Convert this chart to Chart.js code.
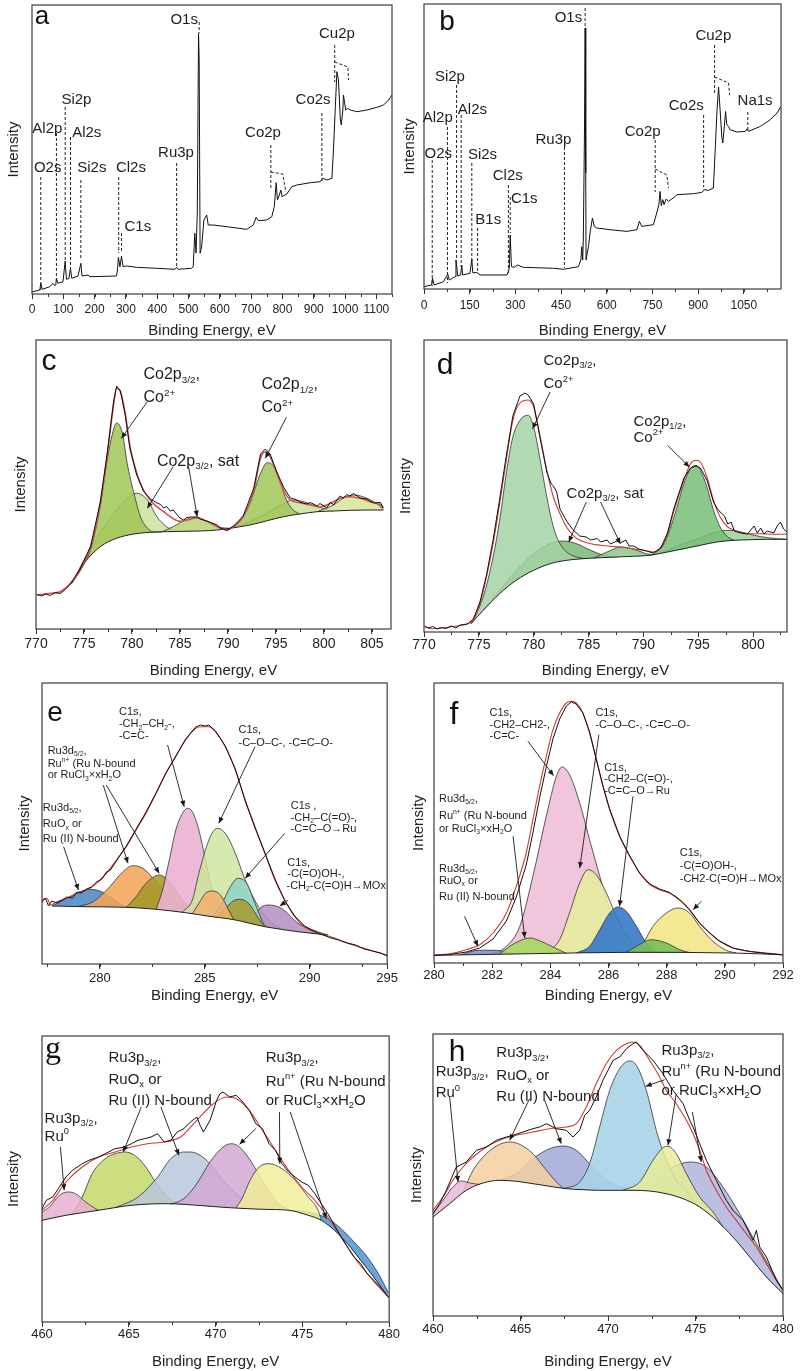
<!DOCTYPE html>
<html><head><meta charset="utf-8">
<script src="https://cdn.jsdelivr.net/npm/chart.js@4.4.1/dist/chart.umd.min.js"></script>
<style>
html,body{margin:0;padding:0;background:#fff;}
body{width:800px;height:1371px;position:relative;overflow:hidden;}
canvas{position:absolute;}
</style></head><body>
<canvas id="pa"></canvas><canvas id="pb"></canvas><canvas id="pc"></canvas><canvas id="pd"></canvas>
<canvas id="pe"></canvas><canvas id="pf"></canvas><canvas id="pg"></canvas><canvas id="ph"></canvas>
<script>
const FONT = "'Liberation Sans', Arial, Helvetica, sans-serif";

// ================= panel a (survey) =================
const aTicks = [0,100,200,300,400,500,600,700,800,900,1000,1100];
const aSurvey = [[0,2],[3,2.3],[25,4],[28,10.7],[33,4.7],[57,7.3],[67,10.7],[72,8.5],[76,9],[78,15.7],[83,10.7],[99,12.3],[106,33],[110,14.7],[118,15.7],[123,25.7],[127,15.7],[147,18],[156,30.7],[160,18],[179,19],[185,17.3],[270,18],[273,24],[276,36.7],[281,27.3],[286,38],[291,27.3],[302,28],[334,26.7],[398,25.7],[457,24.7],[462,26.7],[467,24.7],[510,25.7],[515,27.3],[520,60.7],[524,41],[528,81],[532,260.7],[534,234],[537,40.7],[542,47.3],[549,74],[558,79],[563,69],[579,69],[622,67.3],[686,64.7],[707,69],[716,76.7],[723,73.3],[750,74],[766,77.3],[774,87.3],[780,111.3],[784,94],[790,99],[795,104],[799,97.3],[814,100],[830,107.3],[846,109],[889,111.3],[921,112.3],[928,115.7],[942,114],[958,115.7],[963,144],[969,187.3],[974,222.3],[979,214],[985,174],[988,169],[993,184],[995,199],[1002,184],[1008,185.7],[1017,184],[1038,182.3],[1070,184],[1102,186.7],[1123,189],[1139,194],[1150,199]];
const aNames = ['O2s','Al2p','Si2p','Al2s','Si2s','Cl2s','C1s','Ru3p','O1s','Co2p','Co2s','Cu2p'];
const aNamePos = [[50,127],[49,166],[142,195],[175,162],[191,127],[316,127],[338,68],[460,142],[486,275],[738,162],[898,195],[974,261]];
const aDrops = [[[28,117],[28,4]],[[78,161],[78,12]],[[106,187],[106,34]],[[123,157],[123,26]],[[156,114],[156,36]],[[277,117],[277,41]],[[286,61],[286,41]],[[462,131],[462,27]],[[534,272],[534,261]],[[763,149],[763,104]],[[926,181],[926,112]],[[967,249],[967,212]],[[763,122],[801,120],[811,102]],[[967,232],[1009,227],[1011,214]]];

// ================= panel b (survey) =================
const bTicks = [0,150,300,450,600,750,900,1050];
const bSurvey = [[0,2],[3,2.6],[25,4],[28,10.7],[33,4],[64,7.3],[78,15],[83,9],[102,12.3],[105,29],[111,13],[120,14],[124,24],[127,14],[151,15.7],[157,29.7],[160,16.3],[175,16.3],[184,14],[272,14],[277,17.3],[280,21],[283,54],[287,22.3],[296,21.7],[307,24],[326,21.7],[425,20.7],[458,19.7],[507,22.3],[515,29],[518,42.3],[521,29],[523,49],[527,162],[529,261],[531,116],[532,29],[536,36],[540,42.3],[545,56],[553,71],[559,62.6],[567,61],[611,59.3],[666,57.6],[699,59.3],[707,67.6],[715,62.6],[753,64.3],[764,76],[771,84.3],[775,97.6],[779,83.3],[784,89.3],[788,84.3],[795,90],[803,87.6],[825,92.6],[830,94.3],[885,95.3],[912,96.6],[920,99.3],[934,98.6],[950,101],[956,139.3],[962,179.3],[967,202],[972,179.3],[978,151],[981,146],[986,162.6],[990,177.6],[994,164.3],[1000,162.6],[1005,159.3],[1027,157],[1055,157.6],[1060,160],[1065,157.6],[1104,162.6],[1137,169.3],[1159,176],[1172,182.6]];
const bNames = ['O2s','Al2p','Si2p','Al2s','Si2s','B1s','Cl2s','C1s','Ru3p','O1s','Co2p','Co2s','Cu2p','Na1s'];
const bNamePos = [[47,136],[45,172],[85,213],[159,180],[192,135],[211,70],[275,114],[329,91],[425,150],[474,272],[718,158],[861,184],[950,254],[1087,189]];
const bDrops = [[[27,129],[27,3]],[[77,162],[77,6]],[[107,204],[107,29]],[[122,174],[122,22]],[[157,126],[157,26]],[[176,61],[176,16]],[[277,104],[277,16]],[[283,92],[283,56]],[[461,142],[461,21]],[[529,281],[529,261]],[[759,149],[759,97]],[[918,174],[918,102]],[[954,244],[954,194]],[[1063,177],[1063,157]],[[759,120],[797,114],[803,101]],[[954,212],[1000,206],[1003,194]]];

// ================= panel c (Co2p) =================
const cTicks = [770,775,780,785,790,795,800,805];
const cRaw = [[770.1,34.5],[770.6,33],[771.0,35],[771.5,33.5],[772.0,36.5],[772.5,35.5],[773.0,39],[773.6,45],[774.6,60],[775.7,83],[776.7,127],[777.4,174],[778.1,228],[778.4,243],[778.8,238],[779.3,214],[779.8,180],[780.5,154],[781.2,138],[781.9,130],[782.3,128],[782.6,126],[783.0,124.5],[783.3,121],[783.6,122.5],[784.0,118],[784.3,119],[785.0,111],[785.4,109],[785.7,111.5],[786.1,112],[786.8,112],[787.1,110],[787.8,108],[788.2,106.5],[788.9,104],[789.2,101],[789.9,98.5],[790.6,103],[791.6,113],[792.7,141],[793.4,175],[793.9,180],[794.4,175],[795.1,157],[795.8,142],[796.5,131],[797.1,129.5],[797.5,127],[798.2,125],[798.6,126.5],[799.3,123],[799.6,125.5],[800.3,121],[800.7,127],[801.0,124],[801.7,133],[802.0,131],[802.4,134.5],[802.7,133],[803.1,135.5],[803.8,131],[804.5,130],[804.8,128],[805.2,126],[805.9,126.5],[806.2,121]];
const cEnvelope = [[770.1,34],[771.5,35.7],[772.5,37.3],[773.6,45.7],[774.6,59],[775.7,82.3],[776.7,125.7],[777.4,172.3],[778.1,225.7],[778.4,240.7],[778.8,237.3],[779.3,215.7],[779.8,182.3],[780.5,155.7],[781.2,139],[781.9,129],[782.6,122.3],[783.3,117.3],[784.0,112.3],[785.0,107.7],[786.1,109.7],[786.8,111.3],[787.8,107.7],[788.9,102.3],[789.9,99],[790.6,102.3],[791.6,112.3],[792.7,139],[793.4,170.7],[793.9,177.3],[794.4,172.3],[795.1,155.7],[795.8,139],[796.5,129],[797.5,126.3],[798.6,124],[799.6,122.3],[800.7,125.7],[801.7,130.7],[802.7,132.3],[803.8,130.7],[804.8,127.3],[805.9,124],[806.2,120.7]];
const cBackground = [[773.7,45.7],[775.0,65.7],[776.7,82.3],[778.4,90.7],[780.2,95],[781.9,96.7],[783.6,97.3],[785.4,97.7],[787.1,98],[788.9,99],[790.2,100.7],[792.3,104],[794.1,108.3],[795.8,112.3],[797.5,115],[799.3,117.3],[801.0,118],[802.7,118.7],[804.5,119],[806.2,119]];
const cMain32 = [[773.7,45.7],[774.6,58],[775.7,80],[776.7,123],[777.4,168],[778.1,200],[778.4,206],[779.0,196],[779.5,166],[780.2,136],[780.9,112],[781.6,101],[782.3,97],[783.0,97]];
const cShoulder32 = [[773.75,45.7],[775.0,69],[776.7,95.7],[778.4,119],[779.5,130.7],[780.5,135.7],[781.6,129],[782.6,112.3],[783.6,102.3],[784.3,99]];
const cSat32 = [[783.0,96.7],[784.3,102.3],[785.7,109.7],[786.8,111.3],[787.8,107.7],[789.2,101.7],[790.2,100.7]];
const cMain12 = [[790.2,100.5],[791.3,109],[792.3,125.7],[793.4,155.7],[794.1,166.3],[794.8,162.3],[795.5,145.7],[796.1,129],[796.8,119],[797.5,115]];
const cShoulder12 = [[790.6,101.5],[792.3,107.3],[794.1,115.7],[795.8,125.7],[796.8,129],[797.9,127.3],[799.3,122.3],[801.0,118]];
const cSat12 = [[799.3,117.3],[801.0,124],[802.0,130.7],[803.1,134],[804.5,130.7],[805.9,122.3],[806.2,119]];
const cTexts = ['Co2p_{3/2},','Co^{2+}','Co2p_{3/2}, sat','Co2p_{1/2},','Co^{2+}'];
const cTextPos = [[781.2,255.7],[781.2,232.3],[782.6,169],[793.5,245.7],[793.5,222.3]];
const cArrows = [[[781.6,227.3],[778.9,190.7]],[[784.3,162.3],[781.6,120.7]],[[785.9,162.3],[786.8,112.3]],[[796.1,211.7],[793.9,170.7]]];

// ================= panel d (Co2p) =================
const dTicks = [770,775,780,785,790,795,800];
const dRaw = [[770.06,6],[770.4,4],[770.8,5.5],[771.2,3],[771.6,4.5],[772.0,3.5],[772.5,6],[772.9,4],[773.3,7],[773.9,7.5],[774.5,13],[775.1,30],[775.7,57],[776.3,92],[776.9,133],[777.5,176],[778.1,216],[778.75,236],[779.2,239],[779.5,237],[780.0,228],[780.6,193],[781.2,160],[781.6,148],[781.8,146],[782.1,140],[782.4,123],[783.0,111],[783.6,102],[784.2,96],[784.8,95],[785.2,92],[785.8,93.5],[786.1,90],[786.7,92],[787.0,88],[787.6,91],[787.9,89],[788.4,92],[788.7,86],[789.1,86],[789.6,83],[790.3,81],[790.9,79],[791.6,84],[792.2,99],[792.8,124],[793.7,154],[794.3,164],[794.8,166],[795.2,164],[795.8,152],[796.4,130],[796.7,124],[797.0,120],[797.4,116],[797.7,108],[798.0,110],[798.3,101],[798.9,99],[799.5,98],[800.1,106],[800.4,99],[800.7,104],[801.0,98],[801.3,101],[801.9,99],[802.2,106],[802.5,110],[802.8,103],[803.1,100]];
const dEnvelope = [[770.06,5],[770.8,3.3],[772.3,5],[773.9,8.3],[774.5,11.7],[775.1,28.3],[775.7,55],[776.3,88.3],[776.9,128.3],[777.5,171.7],[778.1,211.7],[778.75,229],[779.5,232],[780.0,225],[780.6,195],[781.2,161.7],[781.8,135],[782.4,118.3],[783.0,105],[783.6,96.7],[784.2,91.7],[785.2,88.3],[786.1,86.7],[787.0,85.7],[787.9,85],[789.1,83.3],[790.3,81],[790.9,80],[791.6,85],[792.2,98.3],[792.8,121.7],[793.7,151.7],[794.3,168.3],[794.8,171.7],[795.2,170],[795.8,155],[796.4,131.7],[797.0,115],[797.7,105],[798.3,101.7],[799.5,98.3],[800.7,98.3],[801.9,97.7],[803.1,97.7]];
const dBackground = [[774.3,8.3],[775.4,21.7],[776.9,38.3],[778.4,51.7],[780.0,61.7],[781.5,68.3],[783.0,71.7],[784.5,73.3],[786.1,74.3],[787.6,75],[789.1,75.7],[790.6,76.7],[792.2,80],[793.7,83.3],[795.2,86.7],[796.7,90],[798.3,91.7],[799.8,92.3],[801.3,92.7],[803.1,92.7]];
const dMain32 = [[774.3,8.3],[775.4,35],[776.3,75],[776.9,111.7],[777.5,158.3],[778.1,195],[778.75,211.7],[779.5,216.7],[780.0,205],[780.6,171.7],[781.2,135],[781.8,105],[782.4,88.3],[783.0,80],[783.9,75],[784.8,73.3]];
const dShoulder32 = [[775.4,21.7],[776.9,41.7],[778.4,61.7],[780.0,78.3],[781.5,88.3],[782.7,91],[783.9,88.3],[785.2,81.7],[786.4,76.7],[787.6,75]];
const dSat32 = [[785.5,74],[786.7,80],[788.0,85],[789.4,81.7],[790.6,77.7],[791.0,77.7]];
const dMain12 = [[790.9,77.5],[791.9,88.3],[792.8,115],[793.7,148.3],[794.3,163.3],[794.8,166.7],[795.2,161.7],[795.8,145],[796.4,121.7],[797.0,105],[797.7,95],[798.3,91.7]];
const dShoulder12 = [[791.6,79],[793.7,88.3],[795.2,94.3],[796.7,100],[797.7,101.7],[798.9,100],[800.1,96.7],[801.3,94.3],[803.1,92.7]];
const dTexts = ['Co2p_{3/2},','Co^{2+}','Co2p_{1/2},','Co^{2+}','Co2p_{3/2}, sat'];
const dTextPos = [[780.9,272.3],[780.9,249],[789.1,211.7],[789.1,195.7],[783.0,139.3]];
const dArrows = [[[781.5,240],[779.9,203.3]],[[784.8,130],[783.2,90]],[[786.1,130],[787.9,88.3]],[[792.2,186.7],[794.2,165]]];

// ================= panel e (C1s / Ru3d) =================
const eTicks = [280,285,290,293.7];
const eTickLabels = ['280','285','290','295'];
const eRaw = [[277.24,62],[277.4,66],[277.55,58],[277.7,63],[277.95,61],[278.2,64],[278.43,67],[278.7,66],[278.9,72],[279.1,71],[279.37,75],[279.6,77],[279.84,82],[280.1,85],[280.31,92],[280.5,94],[280.79,103],[281.0,110],[281.26,118],[281.73,135],[282.2,152],[282.68,171],[283.15,191],[283.62,208],[284.09,225],[284.57,237],[284.8,239],[285.0,238],[285.2,239],[285.35,236],[285.51,233],[285.98,218],[286.46,195],[286.93,163],[287.4,136],[287.87,111],[288.35,85],[288.82,63],[289.29,48],[289.76,38],[290.39,31],[291.02,26],[291.4,24],[291.81,21],[292.2,19],[292.6,15],[293.0,13],[293.39,11],[293.7,8]];
const eEnvelope = [[277.24,64],[277.48,65.7],[277.64,59],[277.95,62.3],[278.43,65.7],[278.9,70.7],[279.37,74],[279.84,80.7],[280.31,90.7],[280.79,104],[281.26,117.3],[281.73,134],[282.2,150.7],[282.68,170.7],[283.15,190.7],[283.62,207.3],[284.09,224],[284.57,235.7],[284.88,237.3],[285.2,237.3],[285.51,232.3],[285.98,217.3],[286.46,194],[286.93,164],[287.4,137.3],[287.87,110.7],[288.35,84],[288.82,64],[289.29,47.3],[289.76,37.3],[290.39,30.7],[291.02,27.3],[291.81,20.7],[292.6,15.7],[293.39,10.7],[293.7,9]];
const eBackground = [[277.72,58],[279.21,57.3],[281.26,56.7],[282.68,54.7],[284.09,51.3],[285.35,47.3],[286.3,44.7],[287.87,37.3],[289.45,32.3],[290.87,29]];
const eRuOx = [[277.72,58],[278.43,65.7],[279.06,72.3],[279.53,74.7],[280.0,73],[280.47,67.3],[280.94,60.7],[281.26,56.7]];
const eRuN = [[278.9,57.3],[279.69,62.3],[280.47,77.3],[281.1,92.3],[281.57,98.3],[282.05,95.7],[282.68,82.3],[283.31,67.3],[283.94,55.7],[284.1,51.3]];
const eRuN2 = [[281.26,56.7],[281.73,67.3],[282.2,80.7],[282.83,89],[283.31,82.3],[283.78,69],[284.25,55.7],[284.5,50.3]];
const eRuBroad = [[281.26,56.7],[282.05,59],[282.83,61.3],[283.31,62.3],[284.09,59],[285.04,52.3],[285.98,46.7],[286.3,44.7]];
const eCH2 = [[282.68,54.7],[282.99,74],[283.31,104],[283.62,134],[283.94,150.7],[284.17,155.7],[284.41,152.3],[284.72,134],[285.04,104],[285.35,74],[285.67,55.7],[285.83,46]];
const eCOC = [[283.94,52],[284.41,64],[284.72,90.7],[285.2,124],[285.59,135.7],[285.98,130.7],[286.46,110.7],[286.93,84],[287.56,57.3],[288.19,40.7],[288.66,35]];
const eRu32a = [[284.41,50.5],[284.72,60.7],[285.04,70.7],[285.35,73],[285.75,69],[286.14,54],[286.38,44.5]];
const eCH2CO = [[285.35,47],[285.83,60.7],[286.22,77.3],[286.58,85.7],[287.0,80.7],[287.4,60.7],[287.8,40.7],[287.95,37]];
const eRu32b = [[285.51,46.8],[285.98,55.7],[286.38,63.3],[286.69,64.7],[287.09,60.7],[287.56,45.7],[287.87,37.3]];
const eCOOH = [[287.24,40.3],[287.56,54],[288.03,59],[288.66,55.7],[289.45,40.7],[290.24,33.3],[290.87,29]];
const eTexts = ['C1s,','-CH_{2}–CH_{2}-,','-C=C-','C1s,','-C–O–C-, -C=C–O-','Ru3d_{5/2},','Ru^{n+} (Ru N-bound','or RuCl_{3}×xH_{2}O','Ru3d_{5/2},','RuO_{x} or','Ru (II) N-bound','C1s ,','-CH_{2}–C(=O)-,','-C=C–O→Ru','C1s,','-C(=O)OH-,','-CH_{2}-C(=O)H→MOx'];
const eTextPos = [[280.91,253.3],[280.91,240.7],[280.91,228.7],[286.61,234.7],[286.61,222.3],[277.51,214],[277.51,201.3],[277.51,189.7],[277.28,157.3],[277.28,140.7],[277.28,125.7],[289.1,159],[289.1,147.3],[289.1,135.7],[288.94,102.3],[288.94,90.7],[288.9,79]];
const eArrows = [[[283.23,219],[284.02,157.3]],[[287.4,217.3],[285.67,140.7]],[[280.16,179],[281.34,100.7]],[[280.3,179],[282.83,90.7]],[[278.27,117.3],[278.98,74]],[[288.82,130.7],[286.93,85.7]],[[288.98,64],[288.58,58]]];

// ================= panel f (C1s / Ru3d) =================
const fTicks = [280,282,284,286,288,290,292];
const fRaw = [[280,7.5],[280.54,8.5],[281.11,11],[281.57,15],[282.03,24],[282.49,42],[282.83,66],[283.17,98],[283.4,130],[283.63,165],[283.86,196],[284.09,224],[284.32,244],[284.55,257],[284.72,261],[284.89,259],[285.12,250],[285.35,231],[285.58,204],[285.81,177],[286.04,154],[286.38,127],[286.73,107],[287.07,90],[287.42,79],[287.76,74],[288.1,70.5],[288.45,63],[288.79,53],[289.13,40],[289.48,30],[289.82,22],[290.28,15],[290.85,11.5],[291.43,9.5],[292,8]];
const fEnvelope = [[280,8.3],[280.54,9.3],[281.11,13.3],[281.57,18.3],[282.03,30],[282.49,50],[282.83,76.7],[283.17,110],[283.4,143.3],[283.63,176.7],[283.86,206.7],[284.09,233.3],[284.32,250],[284.55,260],[284.72,261.7],[284.89,260],[285.12,250],[285.35,230],[285.58,203.3],[285.81,176.7],[286.04,153.3],[286.38,126.7],[286.73,106.7],[287.07,90],[287.42,78.3],[287.76,73.3],[288.1,70],[288.45,63.3],[288.79,53.3],[289.13,40],[289.48,30],[289.82,21.7],[290.28,15],[290.85,11.7],[291.43,10],[292,8.3]];
const fBackground = [[280,7.7],[283.4,9.3],[286.84,10.7],[290.28,10],[292,8.3]];
const fCH2 = [[282.03,9],[282.49,16.7],[282.95,36.7],[283.4,86.7],[283.86,146.7],[284.21,186.7],[284.4,196],[284.66,188.3],[285.01,160],[285.35,123.3],[285.7,86.7],[286.04,53.3],[286.38,26.7],[286.84,13.3],[287.07,10.7]];
const fCOC = [[283.86,9.6],[284.32,23.3],[284.66,50],[285.01,80],[285.3,93.3],[285.58,88.3],[285.93,70],[286.27,46.7],[286.73,23.3],[287.19,11.7],[287.42,10.7]];
const fCORu = [[284.89,10],[285.35,16.7],[285.7,33.3],[286.04,50],[286.33,56],[286.61,51.7],[286.96,36.7],[287.3,20],[287.64,11.7],[287.87,10.6]];
const fCOOH = [[286.84,10.7],[287.19,20],[287.53,36.7],[287.99,50],[288.39,55],[288.79,50],[289.13,36.7],[289.59,21.7],[290.05,12.7],[290.39,10]];
const fRuN = [[282.26,8.8],[282.6,16.7],[282.95,22.3],[283.29,25],[283.63,22.3],[284.09,16],[284.55,9.6]];
const fRuN2 = [[286.61,10.6],[286.96,16.7],[287.47,23.3],[287.99,20],[288.45,13.3],[288.79,10.4]];
const fRuOx = [[280.88,8.1],[281.57,12.8],[282.14,12.7],[282.72,9]];
const fTexts = ['C1s,','-CH2–CH2-,','-C=C-','C1s,','-C–O–C-, -C=C–O-','C1s,','-CH2–C(=O)-,','-C=C–O→Ru','Ru3d_{5/2},','Ru^{n+} (Ru N-bound','or RuCl_{3}×xH_{2}O','Ru3d_{5/2},','RuO_{x} or','Ru (II) N-bound','C1s,','-C(=O)OH-,','-CH2-C(=O)H→MOx'];
const fTextPos = [[281.91,251],[281.91,239.3],[281.91,228.3],[285.55,251],[285.55,239.3],[285.85,196],[285.85,185],[285.85,173.3],[280.17,165],[280.17,148.3],[280.17,135],[280.17,95],[280.17,83.3],[280.17,67.3],[288.45,111],[288.45,98.3],[288.45,85]];
const fArrows = [[[283.23,221.7],[284.11,187.3]],[[285.67,228.3],[285.01,95]],[[286.84,166.7],[286.38,56.7]],[[282.72,126.7],[283.12,25]],[[281.05,46.7],[281.51,16.7]],[[289.19,61.7],[288.91,53.3]]];

// ================= panel g (Ru3p) =================
const gTicks = [460,465,470,475,480];
const gRaw = [[460,113.3],[460.25,121.7],[460.62,125],[461,135],[461.38,145],[461.75,151.7],[462.32,158.3],[462.7,161.7],[463.26,165],[463.64,168.3],[464.21,173.3],[464.77,175],[465.15,178.3],[465.53,181.7],[465.91,183.3],[466.28,185],[466.66,188.3],[467.04,180],[467.42,181.7],[467.79,190],[468.17,193.3],[468.55,200],[468.92,205],[469.11,196.7],[469.3,190],[469.68,201.7],[470.06,221.7],[470.25,228.3],[470.43,230],[470.81,225],[471.19,226.7],[471.57,220],[471.94,211.7],[472.32,198.3],[472.7,193.3],[473.08,178.3],[473.45,171.7],[473.83,158.3],[474.21,150],[474.58,145],[474.96,140],[475.34,136.7],[475.72,128.3],[476.09,118.3],[476.47,108.3],[476.85,96.7],[477.23,85],[477.6,75],[477.98,65],[478.36,58.3],[478.74,48.3],[479.11,41.7],[479.49,35],[479.96,25]];
const gEnvelope = [[460,111.7],[460.62,121.7],[461.38,140],[462.32,155],[463.26,165],[464.21,170],[465.15,175],[466.09,178.3],[467.04,180],[467.98,185],[468.92,201.7],[469.87,218.3],[470.62,225],[471.19,223.3],[471.94,211.7],[472.7,191.7],[473.45,171.7],[474.21,151.7],[474.96,135],[475.72,121.7],[476.47,105],[477.23,85],[477.98,65],[478.74,48.3],[479.49,33.3],[479.96,25]];
const gBackground = [[460,101.7],[461.38,106.7],[463.26,111.7],[465.15,116.7],[467.04,118.3],[468.17,117.7],[468.92,116.7],[470.81,114.3],[472.7,112.7],[474.21,111.7],[475.34,106.7],[476.09,101.7],[476.85,91.7],[477.6,78.3],[478.36,61.7],[479.11,45],[479.96,24.3]];
const gRu0 = [[460,110],[460.43,115],[461,126.7],[461.47,130],[461.94,128.3],[462.51,120],[463.08,113.3],[463.26,111.7]];
const gRuOx = [[461.75,107.5],[462.32,125],[462.89,148.3],[463.64,163.3],[464.21,168.3],[464.77,170],[465.34,166.7],[465.91,156.7],[466.47,141.7],[467.04,128.3],[467.6,120],[468.17,117.7]];
const gRuII = [[464.21,114.3],[465.53,125],[466.66,145],[467.42,163.3],[468.17,170],[468.55,170],[469.11,166.7],[469.68,158.3],[470.43,141.7],[471.19,128.3],[471.94,120],[472.7,113.3]];
const gRuN = [[467.42,117.7],[468.17,123.3],[468.92,138.3],[469.68,160],[470.43,175],[470.91,178.3],[471.38,175],[472.13,158.3],[472.89,135],[473.64,118.3],[474.21,112.3]];
const gRuN2 = [[471.19,114.3],[471.57,125],[471.94,140],[472.51,155],[473.08,158.3],[473.83,153.3],[474.58,141.7],[475.34,125],[475.91,111.7],[476.09,101.7]];
const gTail = [[474.21,111.7],[474.96,111],[475.72,108.3],[476.47,103.3],[477.23,93.3],[477.98,80],[478.74,65],[479.49,45],[479.96,29]];
const gTexts = ['Ru3p_{3/2},','RuO_{x} or','Ru (II) N-bound','Ru3p_{3/2},','Ru^{0}','Ru3p_{3/2},','Ru^{n+} (Ru N-bound','or RuCl_{3}×xH_{2}O'];
const gTextPos = [[463.83,265],[463.83,243.3],[463.83,222.3],[460.15,204.3],[460.15,186.7],[472.89,265],[472.89,241.7],[472.89,222.3]];
const gArrows = [[[461.06,175],[461.28,131.7]],[[465.72,215],[464.68,170]],[[466.85,215],[467.89,166.7]],[[472.32,193.3],[471.38,177.7]],[[473.68,210],[473.7,158.3]],[[474.3,210],[476.38,103.3]]];

// ================= panel h (Ru3p) =================
const hTicks = [460,465,470,475,480];
const hRaw = [[460,102.3],[460.38,112.3],[460.76,125.7],[461.33,149],[461.9,154],[462.48,165.7],[463.05,169],[463.62,175.7],[464.19,179],[464.57,180.7],[465.14,184],[465.71,187.3],[466.1,189],[466.48,192.3],[467.05,187.3],[467.62,185.7],[468.0,179],[468.38,185.7],[468.67,200.7],[468.95,205.7],[469.33,219],[469.71,235.7],[470.29,255.7],[470.67,259],[471.05,267.3],[471.43,272.3],[471.62,274],[472.0,265.7],[472.57,255.7],[473.14,242.3],[473.71,225.7],[474.29,212.3],[474.67,195.7],[474.86,189],[475.24,172.3],[475.62,155.7],[476.19,135.7],[476.76,115.7],[477.14,105.7],[477.71,95.7],[478.29,75.7],[478.48,85.7],[478.67,69],[479.05,59],[479.62,35.7],[480,25.7]];
const hEnvelope = [[460,105.7],[460.57,119],[461.14,135.7],[461.71,149],[462.29,159],[463.05,169],[463.81,175.7],[464.76,180.7],[465.71,184],[466.67,187.3],[467.62,189],[468.19,192.3],[468.76,209],[469.33,232.3],[469.9,252.3],[470.48,265.7],[471.05,272.3],[471.43,274],[471.81,270.7],[472.38,255.7],[472.95,239],[473.33,225.7],[473.9,212.3],[474.48,195.7],[474.86,182.3],[475.24,165.7],[475.62,145.7],[476.19,125.7],[476.76,109],[477.33,95.7],[477.9,82.3],[478.48,69],[479.05,52.3],[479.62,35.7],[480,25.7]];
const hBackground = [[460,99],[460.95,112.3],[461.9,125.7],[462.86,133],[463.81,135.7],[464.76,134.7],[465.71,132.3],[466.67,129.7],[467.62,127.3],[468.57,126.3],[469.52,125.7],[471.43,125.7],[472.38,125],[473.33,122.3],[474.29,117.3],[475.24,109],[476.19,95.7],[477.14,79],[478.1,59],[479.05,39],[480,22.3]];
const hRu0 = [[460,102.3],[460.57,115.7],[461.14,129],[461.62,135],[462.1,133],[462.67,131.5]];
const hRuOx = [[461.71,124],[462.29,145.7],[463.05,162.3],[463.81,171.7],[464.38,174],[464.95,171.7],[465.71,162.3],[466.48,145.7],[467.05,134],[467.43,127.8]];
const hRuII = [[463.81,135.7],[464.76,142.3],[465.71,157.3],[466.67,167.3],[467.43,170],[468.19,165.7],[468.95,152.3],[469.71,139],[470.48,130.7],[471.43,125.7]];
const hRuN = [[467.43,127.3],[468.38,134],[468.95,152.3],[469.52,189],[470.1,225.7],[470.67,247.3],[471.2,255],[471.62,250.7],[472.19,225.7],[472.76,185.7],[473.33,155.7],[473.9,135.7],[474.48,125],[474.86,116],[475.24,109]];
const hRuN2 = [[470.86,125.7],[471.81,134],[472.57,155.7],[473.14,168.3],[473.43,169.7],[473.9,162.3],[474.48,142.3],[475.24,119],[476.0,104],[476.57,89]];
const hTail = [[471.43,125.7],[472.57,135.7],[473.71,149],[474.67,154],[475.62,149],[476.57,129],[477.52,102.3],[478.48,72.3],[479.24,49],[480,25.7]];
const hTexts = ['Ru3p_{3/2},','Ru^{0}','Ru3p_{3/2},','RuO_{x} or','Ru (II) N-bound','Ru3p_{3/2},','Ru^{n+} (Ru N-bound','or RuCl_{3}×xH_{2}O'];
const hTextPos = [[460.15,245],[460.15,224],[463.62,264],[463.62,241.7],[463.62,220.7],[473.05,266.3],[473.05,245.7],[473.05,226.3]];
const hArrows = [[[460.95,219],[461.43,134]],[[465.52,217.3],[464.38,175.7]],[[466.38,215.7],[467.33,172.3]],[[473.24,236.3],[472.15,229.7]],[[473.9,222.3],[473.43,170.7]],[[474.82,204],[475.33,154]]];

// ================= drawing helpers =================
function parseRich(s){
  const segs=[]; let i=0, cur='';
  while(i<s.length){
    if((s[i]==='_'||s[i]==='^') && s[i+1]==='{'){
      if(cur){segs.push({t:cur,m:0}); cur='';}
      const j=s.indexOf('}',i);
      segs.push({t:s.slice(i+2,j), m:s[i]==='_'?1:2});
      i=j+1;
    } else { cur+=s[i]; i++; }
  }
  if(cur) segs.push({t:cur,m:0});
  return segs;
}
function drawRich(ctx, s, x, y, size, align, family){
  const segs=parseRich(s); let w=0;
  segs.forEach(g=>{g.fs=g.m?size*0.62:size; ctx.font=g.fs+'px '+family; g.w=ctx.measureText(g.t).width; w+=g.w;});
  let cx = align==='center'? x-w/2 : (align==='right'? x-w : x);
  ctx.textAlign='left'; ctx.textBaseline='alphabetic';
  const base = y + size*0.36;
  segs.forEach(g=>{ctx.font=g.fs+'px '+family; const dy = g.m===1? size*0.22 : (g.m===2? -size*0.42 : 0); ctx.fillText(g.t,cx,base+dy); cx+=g.w;});
}
function drawArrow(ctx,x1,y1,x2,y2){
  ctx.beginPath(); ctx.moveTo(x1,y1); ctx.lineTo(x2,y2); ctx.stroke();
  const a=Math.atan2(y2-y1,x2-x1), L=6, W=2.6;
  ctx.beginPath(); ctx.moveTo(x2,y2);
  ctx.lineTo(x2-L*Math.cos(a)+W*Math.sin(a), y2-L*Math.sin(a)-W*Math.cos(a));
  ctx.lineTo(x2-L*Math.cos(a)-W*Math.sin(a), y2-L*Math.sin(a)+W*Math.cos(a));
  ctx.closePath(); ctx.fill();
}
const annoPlugin = {
  id:'anno',
  afterDatasetsDraw(chart){
    const o = chart.options.plugins.anno; if(!o) return;
    const ctx=chart.ctx, xs=chart.scales.x, ys=chart.scales.y, ca=chart.chartArea;
    const X=v=>xs.getPixelForValue(v), Y=v=>ys.getPixelForValue(v);
    ctx.save();
    ctx.strokeStyle='#3c3c3c'; ctx.lineWidth=1.2; ctx.setLineDash([]);
    ctx.strokeRect(ca.left, ca.top, ca.right-ca.left, ca.bottom-ca.top);
    ctx.lineWidth=1; ctx.strokeStyle='#333';
    if(o.minor){
      for(let v=Math.ceil(xs.min/o.minor)*o.minor; v<=xs.max+1e-9; v+=o.minor){
        const px=Math.round(X(v))+0.5; ctx.beginPath(); ctx.moveTo(px,ca.bottom); ctx.lineTo(px,ca.bottom+3); ctx.stroke();
      }
    }
    ctx.strokeStyle='#222'; ctx.lineWidth=1; ctx.setLineDash([3,2]);
    (o.dashes||[]).forEach(p=>{ctx.beginPath(); p.forEach((q,i)=>{const px=X(q[0]),py=Y(q[1]); if(i)ctx.lineTo(px,py); else ctx.moveTo(px,py);}); ctx.stroke();});
    ctx.setLineDash([]);
    ctx.strokeStyle='#1a1a1a'; ctx.fillStyle='#1a1a1a'; ctx.lineWidth=0.9;
    (o.arrows||[]).forEach(a=>drawArrow(ctx,X(a[0][0]),Y(a[0][1]),X(a[1][0]),Y(a[1][1])));
    ctx.fillStyle='#1e1e1e';
    (o.labels||[]).forEach(l=>drawRich(ctx,l[0],X(l[1]),Y(l[2]),o.size,o.align,FONT));
    if(o.letter){
      ctx.font=o.letter.font; ctx.textAlign='center'; ctx.textBaseline='middle'; ctx.fillStyle='#111';
      ctx.fillText(o.letter.t, ca.left+o.letter.dx, ca.top+o.letter.dy);
    }
    ctx.restore();
  }
};
Chart.register(annoPlugin);

function zip(texts,pos){return texts.map((t,i)=>[t,pos[i][0],pos[i][1]]);}

function build(id,P){
  const cv=document.getElementById(id);
  cv.width=P.w; cv.height=P.h; cv.style.left=P.left+'px'; cv.style.top=P.top+'px';
  const ds=[];
  if(P.survey) ds.push({data:P.survey, borderColor:'#111', borderWidth:1, tension:0});
  if(P.raw) ds.push({data:P.raw, borderColor:'#111', borderWidth:1, tension:0});
  if(P.env) ds.push({data:P.env, borderColor:P.envColor||'#cf3b33', borderWidth:P.envW||1.1, cubicInterpolationMode:'monotone'});
  let bgIdx=-1;
  if(P.bg){ ds.push({data:P.bg, borderColor:'#222', borderWidth:1, cubicInterpolationMode:'monotone'}); bgIdx=ds.length-1; }
  (P.comps||[]).forEach(c=>ds.push({data:c[0], borderColor:'#333', borderWidth:0.8, backgroundColor:c[1], fill:{target:bgIdx}, cubicInterpolationMode:'monotone'}));
  ds.forEach(d=>{d.pointRadius=0; if(d.fill===undefined) d.fill=false;});
  new Chart(cv,{
    type:'line',
    data:{datasets:ds},
    options:{
      responsive:false, animation:false, devicePixelRatio:1,
      layout:{padding:{left:0, top:P.area.t, right:P.w-P.area.r, bottom:0}},
      plugins:{legend:{display:false}, tooltip:{enabled:false},
        anno:{minor:P.minor, dashes:P.dashes, arrows:P.arrows, labels:P.labels, size:P.lsize, align:P.align||'left', letter:P.letter}},
      scales:{
        x:{type:'linear', min:P.xMin, max:P.xMax,
          afterBuildTicks:s=>{s.ticks=P.ticks.map(v=>({value:v}));},
          afterFit:s=>{s.height=P.h-P.area.b;},
          ticks:{autoSkip:false, maxRotation:0, padding:P.tickPad, color:'#222', font:{family:FONT,size:P.tickSize},
            callback:(v,i)=>P.tickLabels? P.tickLabels[i] : String(v)},
          grid:{display:true, drawOnChartArea:false, drawTicks:true, tickLength:5, color:'#333', lineWidth:1},
          border:{display:false},
          title:{display:true, text:'Binding Energy, eV', color:'#222', font:{family:FONT,size:15}, padding:{top:P.xTitlePad,bottom:0}}},
        y:{min:0, max:P.yMax,
          afterFit:s=>{s.width=P.area.l;},
          ticks:{display:false}, grid:{display:false}, border:{display:false},
          title:{display:true, text:'Intensity', color:'#222', font:{family:FONT,size:15}, padding:{top:P.yTitlePad,bottom:0}}}
      }
    }
  });
}

// ---------- panels ----------
build('pa',{left:0,top:0,w:400,h:340,area:{l:32,t:5,r:392,b:294},xMin:0,xMax:1150,yMax:289,ticks:aTicks,minor:50,tickSize:12,tickPad:3,xTitlePad:4,yTitlePad:5,
  survey:aSurvey, dashes:aDrops, labels:zip(aNames,aNamePos), lsize:15, align:'center',
  letter:{t:'a',font:'26px '+FONT,dx:10,dy:12}});
build('pb',{left:400,top:0,w:400,h:340,area:{l:24,t:4,r:381,b:289},xMin:0,xMax:1172,yMax:285,ticks:bTicks,minor:75,tickSize:12,tickPad:4,xTitlePad:4,yTitlePad:1,
  survey:bSurvey, dashes:bDrops, labels:zip(bNames,bNamePos), lsize:15, align:'center',
  letter:{t:'b',font:'28px '+FONT,dx:23,dy:18}});
build('pc',{left:0,top:335,w:400,h:345,area:{l:36,t:5,r:391,b:294},xMin:770,xMax:807,yMax:289,ticks:cTicks,minor:2.5,tickSize:14,tickPad:2,xTitlePad:3,yTitlePad:12,
  raw:cRaw, env:cEnvelope, envColor:'#d9534f', envW:1.6, bg:cBackground,
  comps:[[cMain12,'rgba(160,199,86,0.85)'],[cMain32,'rgba(160,199,86,0.85)'],[cSat32,'rgba(182,213,115,0.85)'],[cSat12,'rgba(214,230,150,0.85)'],[cShoulder12,'rgba(200,224,150,0.8)'],[cShoulder32,'rgba(200,224,150,0.8)']],
  labels:zip(cTexts,cTextPos), arrows:cArrows, lsize:16,
  letter:{t:'c',font:'30px '+FONT,dx:13,dy:22}});
build('pd',{left:400,top:335,w:400,h:345,area:{l:24,t:5,r:387,b:297},xMin:770,xMax:803.1,yMax:292,ticks:dTicks,minor:2.5,tickSize:14,tickPad:0,xTitlePad:3,yTitlePad:-3,
  raw:dRaw, env:dEnvelope, bg:dBackground,
  comps:[[dMain12,'rgba(120,190,120,0.85)'],[dMain32,'rgba(165,212,165,0.85)'],[dSat32,'rgba(140,200,140,0.85)'],[dShoulder12,'rgba(150,205,150,0.8)'],[dShoulder32,'rgba(110,180,110,0.8)']],
  labels:zip(dTexts,dTextPos), arrows:dArrows, lsize:15,
  letter:{t:'d',font:'30px '+FONT,dx:21,dy:26}});
build('pe',{left:0,top:665,w:400,h:340,area:{l:42,t:18,r:390,b:299},xMin:277.24,xMax:293.7,yMax:281,ticks:eTicks,tickLabels:eTickLabels,minor:2.5,tickSize:13,tickPad:2,xTitlePad:0,yTitlePad:16,
  raw:eRaw, env:eEnvelope, bg:eBackground,
  comps:[[eRu32a,'rgba(242,176,112,0.85)'],[eRu32b,'rgba(168,154,48,0.85)'],[eCH2CO,'rgba(144,213,200,0.85)'],[eCOOH,'rgba(180,140,196,0.85)'],[eCOC,'rgba(207,229,160,0.85)'],[eCH2,'rgba(234,179,209,0.9)'],[eRuN2,'rgba(165,154,42,0.88)'],[eRuN,'rgba(242,166,90,0.88)'],[eRuOx,'rgba(79,134,198,0.88)'],[eRuBroad,'rgba(42,159,191,0.88)']],
  labels:zip(eTexts,eTextPos), arrows:eArrows, lsize:11,
  letter:{t:'e',font:'28px '+FONT,dx:13,dy:30}});
build('pf',{left:400,top:665,w:400,h:340,area:{l:34,t:18,r:383,b:298},xMin:280,xMax:292,yMax:280,ticks:fTicks,minor:1,tickSize:13,tickPad:0,xTitlePad:0,yTitlePad:10,
  raw:fRaw, env:fEnvelope, bg:fBackground,
  comps:[[fRuN,'rgba(168,216,96,0.9)'],[fRuN2,'rgba(120,190,90,0.9)'],[fRuOx,'rgba(128,144,208,0.9)'],[fCORu,'rgba(58,124,200,0.92)'],[fCOOH,'rgba(243,229,138,0.9)'],[fCOC,'rgba(232,236,160,0.9)'],[fCH2,'rgba(240,192,216,0.9)']],
  labels:zip(fTexts,fTextPos), arrows:fArrows, lsize:11,
  letter:{t:'f',font:'32px '+FONT,dx:20,dy:32}});
build('pg',{left:0,top:1000,w:400,h:371,area:{l:42,t:36,r:396,b:322},xMin:460,xMax:480,yMax:286,ticks:gTicks,minor:2.5,tickSize:13,tickPad:0,xTitlePad:5,yTitlePad:5,
  raw:gRaw, env:gEnvelope, bg:gBackground,
  comps:[[gRu0,'rgba(230,176,208,0.85)'],[gRuN2,'rgba(240,238,152,0.85)'],[gRuN,'rgba(212,168,212,0.85)'],[gRuII,'rgba(184,200,220,0.85)'],[gRuOx,'rgba(196,216,106,0.85)'],[gTail,'rgba(90,154,216,0.9)']],
  labels:zip(gTexts,gTextPos), arrows:gArrows, lsize:15,
  letter:{t:'g',font:'32px "Liberation Serif", "Times New Roman", serif',dx:11,dy:14}});
build('ph',{left:400,top:1000,w:400,h:371,area:{l:33,t:34,r:383,b:316},xMin:460,xMax:480,yMax:282,ticks:hTicks,minor:2.5,tickSize:13,tickPad:1,xTitlePad:10,yTitlePad:8,
  raw:hRaw, env:hEnvelope, bg:hBackground,
  comps:[[hRu0,'rgba(232,184,216,0.85)'],[hRuN2,'rgba(232,236,152,0.85)'],[hRuN,'rgba(168,212,232,0.9)'],[hRuOx,'rgba(245,207,160,0.85)'],[hRuII,'rgba(160,168,216,0.85)'],[hTail,'rgba(176,180,220,0.85)']],
  labels:zip(hTexts,hTextPos), arrows:hArrows, lsize:15,
  letter:{t:'h',font:'30px '+FONT,dx:24,dy:19}});
</script>
</body></html>
